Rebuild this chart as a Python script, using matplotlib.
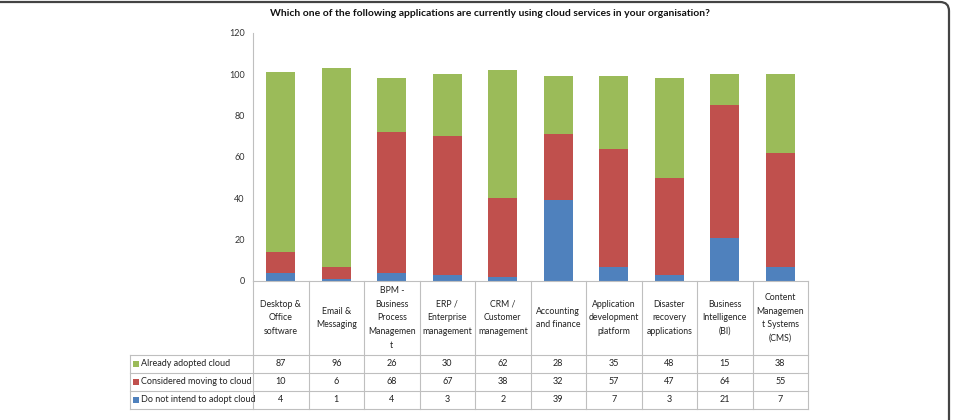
import matplotlib
matplotlib.use("Agg")
import matplotlib.pyplot as plt
import matplotlib.transforms as mtransforms
from matplotlib.patches import FancyBboxPatch, Rectangle
from matplotlib.lines import Line2D

plt.rcParams['font.family'] = ['Lato', 'DejaVu Sans']

title = "Which one of the following applications are currently using cloud services in your organisation?"
categories = [
    "Desktop &\nOffice\nsoftware",
    "Email &\nMessaging",
    "BPM -\nBusiness\nProcess\nManagemen\nt",
    "ERP /\nEnterprise\nmanagement",
    "CRM /\nCustomer\nmanagement",
    "Accounting\nand finance",
    "Application\ndevelopment\nplatform",
    "Disaster\nrecovery\napplications",
    "Business\nIntelligence\n(BI)",
    "Content\nManagemen\nt Systems\n(CMS)",
]
already_adopted = [87, 96, 26, 30, 62, 28, 35, 48, 15, 38]
considered_moving = [10, 6, 68, 67, 38, 32, 57, 47, 64, 55]
do_not_intend = [4, 1, 4, 3, 2, 39, 7, 3, 21, 7]
series_names = ["Already adopted cloud", "Considered moving to cloud", "Do not intend to adopt cloud"]
yticks = [0, 20, 40, 60, 80, 100, 120]

c_green = "#9BBB59"
c_red = "#C0504D"
c_blue = "#4F81BD"
grid_c = "#BFBFBF"

W, H = 955, 420
fig = plt.figure(figsize=(W / 100, H / 100), dpi=100)

def fx(x):
    return x / W

def fy(y):
    return 1 - y / H

# pixel transform (origin bottom-left)
pix = mtransforms.Affine2D().scale(1 / W, 1 / H) + fig.transFigure

# outer rounded frame (left and bottom edges lie outside the image)
frame = FancyBboxPatch((-30, -40), 949 + 30, (H - 2) + 40,
                       boxstyle="round,pad=0,rounding_size=9",
                       transform=pix, fill=False,
                       edgecolor="#444444", linewidth=1.6, clip_on=False)
fig.patches.append(frame)

ax_l, ax_r, ax_t, ax_b = 253, 808, 33, 281
ax = fig.add_axes([fx(ax_l), fy(ax_b), fx(ax_r - ax_l), (ax_b - ax_t) / H])

n = len(categories)
xs = list(range(n))
bw = 0.52
bottom2 = do_not_intend
bottom3 = [a + b for a, b in zip(do_not_intend, considered_moving)]
ax.bar(xs, do_not_intend, width=bw, color=c_blue, zorder=2)
ax.bar(xs, considered_moving, width=bw, bottom=bottom2, color=c_red, zorder=2)
ax.bar(xs, already_adopted, width=bw, bottom=bottom3, color=c_green, zorder=2)

ax.set_xlim(-0.5, n - 0.5)
ax.set_ylim(0, 120)
ax.set_yticks(yticks)
ax.set_yticklabels([str(t) for t in yticks], fontsize=6.5, color="#333333")
ax.tick_params(axis='y', length=0, pad=6)
ax.set_xticks([])
for s in ["top", "right"]:
    ax.spines[s].set_visible(False)
ax.spines["left"].set_color(grid_c)
ax.spines["bottom"].set_color(grid_c)

fig.text(fx(490), fy(14), title, ha="center", va="center", fontsize=7.5,
         fontweight="bold", color="#111111")

# data table below the axes
trans = mtransforms.blended_transform_factory(ax.transData, fig.transFigure)
hdr_b = 355
row_h = 18
rows_vals = [already_adopted, considered_moving, do_not_intend]
colors = [c_green, c_red, c_blue]
tab_left = 130
tab_bottom = hdr_b + row_h * len(rows_vals)

def fline(x0, y0, x1, y1, transform):
    fig.add_artist(Line2D([x0, x1], [y0, y1], transform=transform,
                          color=grid_c, linewidth=0.8, clip_on=False))

# vertical lines
for i in range(n + 1):
    fline(i - 0.5, fy(ax_b), i - 0.5, fy(tab_bottom), trans)
fline(fx(tab_left), fy(hdr_b), fx(tab_left), fy(tab_bottom), fig.transFigure)
# horizontal lines
for r in range(len(rows_vals) + 1):
    y = hdr_b + r * row_h
    fline(fx(tab_left), fy(y), fx(ax_r), fy(y), fig.transFigure)

for i, lab in enumerate(categories):
    fig.text(i, fy((ax_b + hdr_b) / 2), lab, transform=trans, ha="center",
             va="center", fontsize=6.3, color="#222222", linespacing=1.65)

for r, (vals, name, col) in enumerate(zip(rows_vals, series_names, colors)):
    yc = hdr_b + r * row_h + row_h / 2
    fig.add_artist(Rectangle((fx(tab_left + 3), fy(yc + 3)), fx(6), 6 / H,
                             transform=fig.transFigure, facecolor=col,
                             edgecolor="none", clip_on=False))
    fig.text(fx(tab_left + 11), fy(yc), name, ha="left", va="center",
             fontsize=6.5, color="#222222")
    for i, v in enumerate(vals):
        fig.text(i, fy(yc), str(v), transform=trans, ha="center", va="center",
                 fontsize=6.5, color="#222222")

fig.savefig("out.png", dpi=100)
